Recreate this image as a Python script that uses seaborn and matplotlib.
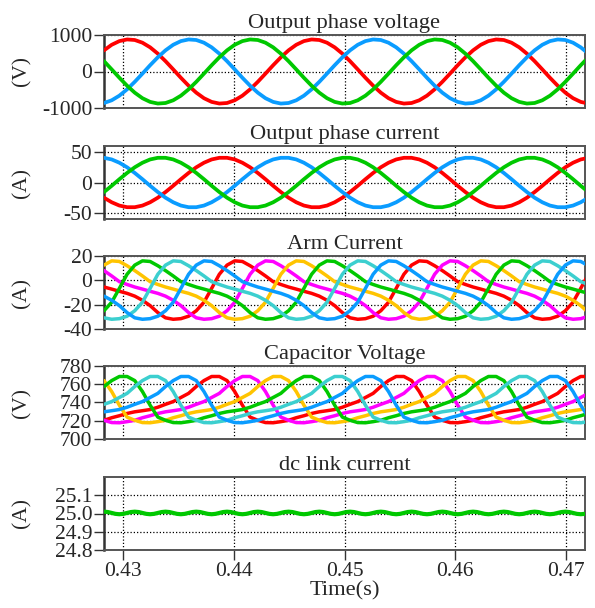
import numpy as np
import pandas as pd
import seaborn as sns
import matplotlib.pyplot as plt

# ---- sampling of the 60 Hz waveforms ----
PERIOD = 1 / 60.0
T0 = 0.42828          # first sample (left edge of the time window)
STEPS = 24            # samples per fundamental cycle
N_SAMPLES = 64        # samples drawn per series
DC_STEPS = 48         # finer grid for the dc link ripple
DC_SAMPLES = 128

time_ticks = [0.43, 0.44, 0.45, 0.46, 0.47]
time_limits = (0.42828, 0.47172)

# One fundamental cycle of the reference (red) trace of every quantity
phase_voltage_cycle = [580, 732, 833, 878, 863, 789, 662, 489, 283, 58, -172, -389,
                       -580, -732, -833, -878, -863, -789, -662, -489, -283, -58, 172, 389]
phase_current_cycle = [-25.0, -32.5, -37.9, -40.6, -40.6, -37.9, -32.5, -25.0, -15.7, -5.4, 5.4, 15.7,
                       25.0, 32.5, 37.9, 40.6, 40.6, 37.9, 32.5, 25.0, 15.7, 5.4, -5.4, -15.7]
arm_current_cycle = [-5.5, -7.2, -9.0, -10.7, -13.0, -16.4, -20.8, -26.5, -30.8, -32.0, -31.5, -29.5,
                     -25.0, -18.0, -6.6, 5.0, 12.5, 16.0, 15.5, 12.0, 8.0, 3.6, -1.1, -3.4]
capacitor_voltage_cycle = [720.5, 723.3, 725.5, 728.0, 729.8, 731.0, 732.3, 734.8, 738.0, 741.0, 745.5, 750.0,
                           757.5, 764.0, 768.5, 768.5, 764.0, 752.0, 737.0, 724.0, 720.5, 718.0, 717.8, 719.0]
# one sixth-harmonic ripple cycle of the dc link current
dc_current_cycle = [25.010, 25.008, 25.003, 24.998, 24.996, 24.998, 25.003, 25.008]

# series names, colours and delays (in samples) relative to the reference trace
phase_names = ["a", "b", "c"]
phase_colors = ["#ff0000", "#0a9cff", "#00c800"]
phase_shifts = [0, 8, 16]

arm_names = ["a_up", "c_low", "b_up", "a_low", "c_up", "b_low"]
arm_colors = ["#ff0000", "#ff00ff", "#ffc400", "#00c800", "#3ccfcf", "#0a9cff"]
arm_shifts = [0, 4, 8, 12, 16, 20]


def cycle_frame(cycle, names, shifts, n_samples, steps):
    rows = []
    for name, shift in zip(names, shifts):
        for j in range(n_samples):
            rows.append((T0 + j * PERIOD / steps, cycle[(j - shift) % len(cycle)], name))
    return pd.DataFrame(rows, columns=["time", "value", "series"])


panels = [
    dict(title="Output phase voltage", unit="(V)",
         data=cycle_frame(phase_voltage_cycle, phase_names, phase_shifts, N_SAMPLES, STEPS),
         names=phase_names, colors=phase_colors, ylim=(-1000, 1000),
         yticks=[-1000, 0, 1000], fmt="{:d}", lw=2.7),
    dict(title="Output phase current", unit="(A)",
         data=cycle_frame(phase_current_cycle, phase_names, phase_shifts, N_SAMPLES, STEPS),
         names=phase_names, colors=phase_colors, ylim=(-60, 60),
         yticks=[-50, 0, 50], fmt="{:d}", lw=2.7),
    dict(title="Arm Current", unit="(A)",
         data=cycle_frame(arm_current_cycle, arm_names, arm_shifts, N_SAMPLES, STEPS),
         names=arm_names, colors=arm_colors, ylim=(-40, 20),
         yticks=[-40, -20, 0, 20], fmt="{:d}", lw=2.5),
    dict(title="Capacitor Voltage", unit="(V)",
         data=cycle_frame(capacitor_voltage_cycle, arm_names, arm_shifts, N_SAMPLES, STEPS),
         names=arm_names, colors=arm_colors, ylim=(700, 780),
         yticks=[700, 720, 740, 760, 780], fmt="{:d}", lw=2.5),
    dict(title="dc link current", unit="(A)",
         data=cycle_frame(dc_current_cycle, ["dc"], [0], DC_SAMPLES, DC_STEPS),
         names=["dc"], colors=["#00c800"], ylim=(24.8, 25.2),
         yticks=[24.8, 24.9, 25.0, 25.1], fmt="{:.1f}", lw=3.0),
]

sns.set_style("white")
plt.rcParams["font.family"] = ["Liberation Serif", "DejaVu Serif"]

FS_TICK = 15.5
FS_TITLE = 16.2
W, H = 595, 608
fig = plt.figure(figsize=(W / 100, H / 100), dpi=100)

left, right = 104 / W, 585 / W
tops = [35, 146, 256, 366, 477]
height = 73

for k, (p, top) in enumerate(zip(panels, tops)):
    ax = fig.add_axes([left, 1 - (top + height) / H, right - left, height / H])
    sns.lineplot(data=p["data"], x="time", y="value", hue="series",
                 hue_order=p["names"], palette=dict(zip(p["names"], p["colors"])),
                 estimator=None, legend=False, linewidth=p["lw"], ax=ax, zorder=3)
    ax.set_xlim(*time_limits)
    ax.set_ylim(*p["ylim"])
    ax.set_yticks(p["yticks"])
    ax.set_yticklabels([p["fmt"].format(v) for v in p["yticks"]], fontsize=FS_TICK)
    ax.set_xticks(time_ticks)
    ax.grid(True, color="black", linestyle=(0, (1, 1.6)), linewidth=0.9, zorder=1)
    ax.set_axisbelow(True)
    for s in ax.spines.values():
        s.set_color("#555555")
        s.set_linewidth(1.4)
    ax.spines["left"].set_color("#333333")
    ax.spines["left"].set_linewidth(1.8)
    ax.tick_params(axis="y", direction="out", length=7, width=1.0, color="#333333",
                   pad=1.5, left=True)
    ax.set_title(p["title"], fontsize=FS_TITLE, pad=5.0)
    ax.set_ylabel("")
    fig.text(22 / W, 1 - (top + height / 2) / H, p["unit"], rotation=90,
             ha="center", va="center", fontsize=FS_TICK)
    if k < len(panels) - 1:
        ax.tick_params(axis="x", length=0, labelbottom=False)
        ax.set_xlabel("")
    else:
        ax.set_xticklabels([f"{v:.2f}" for v in time_ticks], fontsize=FS_TICK)
        ax.tick_params(axis="x", direction="out", length=7, width=1.0, color="#333333",
                       pad=1.5, bottom=True)
        ax.set_xlabel("Time(s)", fontsize=FS_TITLE, labelpad=0)

fig.savefig("out.png", dpi=100)
